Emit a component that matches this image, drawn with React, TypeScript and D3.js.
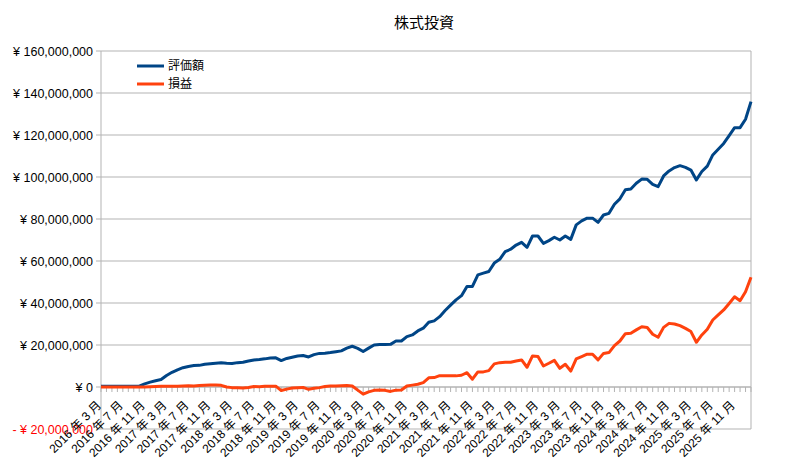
import React from "react";
import * as d3 from "d3";

const title = "株式投資";
const seriesNames = ["評価額", "損益"];
const seriesColors = ["#004586", "#ff420e"];

// monthly categories 2016-03 .. 2026-02
const startYear = 2016;
const startMonth = 3;
const monthCount = 120;
const categories: string[] = Array.from({ length: monthCount }, (_, i) => {
  const m0 = startMonth - 1 + i;
  const y = startYear + Math.floor(m0 / 12);
  const m = (m0 % 12) + 1;
  return `${y} 年 ${m} 月`;
});

// values in millions of yen
const valuation = [
  0.3, 0.3, 0.3, 0.3, 0.3, 0.3, 0.3, 0.4, 1.5, 2.3,
  3.0, 3.6, 5.5, 7.0, 8.2, 9.2, 9.8, 10.2, 10.3, 10.8,
  11.1, 11.3, 11.5, 11.3, 11.2, 11.6, 11.8, 12.4, 12.9, 13.1,
  13.4, 13.8, 13.9, 12.6, 13.6, 14.2, 14.8, 15.0, 14.3, 15.4,
  16.0, 16.1, 16.4, 16.8, 17.2, 18.5, 19.4, 18.4, 16.9, 18.5,
  20.0, 20.2, 20.2, 20.3, 21.9, 21.9, 24.0, 24.8, 26.7, 28.0,
  30.8, 31.5, 33.5, 36.4, 39.0, 41.5, 43.5, 47.9, 47.9, 53.4,
  54.2, 55.0, 59.0, 60.8, 64.5, 65.6, 67.6, 68.9, 66.5, 71.9,
  71.9, 68.4, 69.7, 71.3, 70.0, 71.9, 70.3, 77.2, 79.1, 80.4,
  80.4, 78.4, 81.9, 82.7, 87.0, 89.6, 93.9, 94.3, 97.0, 99.0,
  98.9, 96.5, 95.4, 100.5, 102.9, 104.5, 105.4, 104.6, 103.3, 98.6,
  102.6, 105.2, 110.5, 113.2, 116.0, 119.7, 123.5, 123.5, 127.5, 135.9,
];

const profit = [
  0, 0, 0, 0, 0, 0, 0, 0, 0, 0.1,
  0.2, 0.3, 0.3, 0.4, 0.4, 0.5, 0.6, 0.5, 0.7, 0.8,
  0.9, 1.0, 0.8, 0.0, -0.3, -0.4, -0.5, -0.2, 0.2, 0.1,
  0.4, 0.3, 0.4, -1.7, -1.0, -0.5, -0.3, -0.2, -1.1, -0.6,
  -0.3, 0.2, 0.5, 0.5, 0.6, 0.7, 0.5, -1.5, -3.4, -2.3,
  -1.6, -1.4, -1.6, -2.1, -1.5, -1.4, 0.5, 0.9, 1.3, 2.1,
  4.4, 4.5, 5.4, 5.4, 5.4, 5.3, 5.6, 6.8, 3.7, 7.2,
  7.2, 7.8, 11.0, 11.6, 11.8, 11.8, 12.4, 12.9, 9.4, 14.8,
  14.5, 10.0, 11.3, 12.7, 8.9, 10.8, 7.6, 13.4, 14.5, 15.6,
  15.6, 12.9, 16.0, 16.4, 19.7, 21.9, 25.4, 25.6, 27.2, 28.7,
  28.3, 25.1, 23.7, 28.4, 30.3, 30.0, 29.2, 27.9, 26.4, 21.3,
  24.8, 27.5, 31.9, 34.3, 36.7, 39.8, 43.0, 41.1, 45.4, 52.3,
];

const yTicks = [-20, 0, 20, 40, 60, 80, 100, 120, 140, 160];

const W = 798;
const H = 460;
const left = 101;
const right = 751;
const top = 51;
const bottom = 429;

const fmtYen = (v: number) => {
  const s = d3.format(",")(Math.abs(v) * 1000000);
  return v < 0 ? `- ¥ ${s}` : `¥ ${s}`;
};

export default function App() {
  const x = d3.scalePoint<number>().domain(d3.range(monthCount)).range([left, right]);
  const y = d3.scaleLinear().domain([-20, 160]).range([bottom, top]);
  const line = d3
    .line<number>()
    .x((_, i) => x(i) as number)
    .y((d) => y(d));
  const series = [valuation, profit];
  const font = "'Liberation Sans', 'Noto Sans CJK JP', sans-serif";

  return (
    <svg width={W} height={H} style={{ position: "absolute", left: 0, top: 0 }} fontFamily={font}>
      <rect x={0} y={0} width={W} height={H} fill="#ffffff" />
      <text x={424} y={28} textAnchor="middle" fontSize={15} fill="#000">
        {title}
      </text>
      {/* grid */}
      {yTicks.map((t) => (
        <g key={t}>
          <line x1={left - 5} x2={right} y1={y(t)} y2={y(t)} stroke="#b3b3b3" strokeWidth={1} />
          <text
            x={93}
            y={y(t) + 4.5}
            textAnchor="end"
            fontSize={12.5}
            fill={t < 0 ? "#ff0000" : "#000"}
          >
            {fmtYen(t)}
          </text>
        </g>
      ))}
      <line x1={left} x2={left} y1={top} y2={bottom} stroke="#b3b3b3" />
      <line x1={right} x2={right} y1={top} y2={bottom} stroke="#b3b3b3" />
      {/* x axis at zero */}
      <line x1={left} x2={right} y1={y(0)} y2={y(0)} stroke="#b3b3b3" />
      {categories.map((c, i) => (
        <line
          key={c}
          x1={x(i)}
          x2={x(i)}
          y1={y(0)}
          y2={y(0) + 5}
          stroke="#b3b3b3"
        />
      ))}
      {series.map((s, k) => (
        <path
          key={k}
          d={line(s) || ""}
          fill="none"
          stroke={seriesColors[k]}
          strokeWidth={3}
          strokeLinejoin="round"
        />
      ))}
      {categories.map((c, i) =>
        i % 4 === 0 ? (
          <text
            key={"l" + c}
            transform={`translate(${(x(i) as number) + 1},${y(0) + 19}) rotate(-45)`}
            textAnchor="end"
            fontSize={12}
            fill="#000"
          >
            {c}
          </text>
        ) : null
      )}
      {/* legend */}
      {seriesNames.map((n, k) => (
        <g key={n}>
          <line
            x1={137}
            x2={164}
            y1={66 + k * 18}
            y2={66 + k * 18}
            stroke={seriesColors[k]}
            strokeWidth={3}
          />
          <text x={168} y={70 + k * 18} fontSize={12} fill="#000">
            {n}
          </text>
        </g>
      ))}
    </svg>
  );
}
